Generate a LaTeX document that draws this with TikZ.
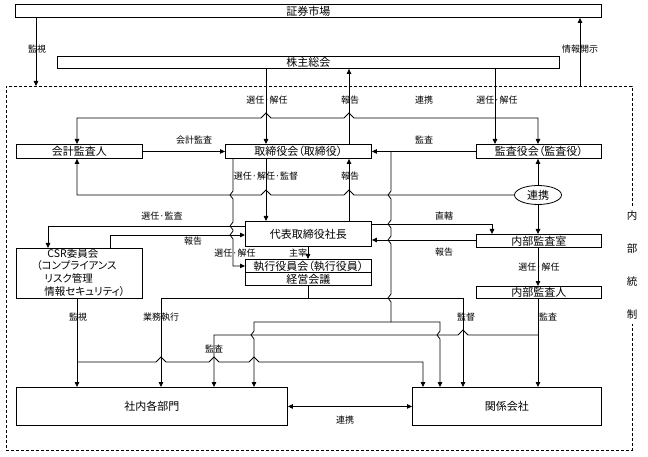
\documentclass[tikz,border=0pt]{standalone}
\usepackage{fontspec}
\setmainfont{Noto Sans CJK JP}[RawFeature={+palt}]
\usetikzlibrary{arrows.meta,shapes.geometric}
\newcommand\bfnt{\fontsize{11}{12}\selectfont}
\newcommand\lfnt{\fontsize{9}{10}\selectfont}
\tikzset{
 box/.style={draw, line width=0.9pt, inner sep=0pt, anchor=north west, font=\bfnt},
 ln/.style={line width=0.8pt},
 arr/.style={ln, -{Triangle[length=5pt,width=4.5pt]}},
 rarr/.style={ln, {Triangle[length=5pt,width=4.5pt]}-},
 darr/.style={ln, {Triangle[length=5pt,width=4.5pt]}-{Triangle[length=5pt,width=4.5pt]}},
 lbl/.style={font=\lfnt, inner sep=0pt},
 hj/.style args={#1/#2}{insert path={-- (#1-5,#2) -- (#1,#2-5) -- (#1+5,#2)}},
 vj/.style args={#1/#2}{insert path={-- (#1,#2-4) -- (#1-3,#2) -- (#1,#2+4)}},
}
\begin{document}
\begin{tikzpicture}[x=1pt,y=-1pt]
\useasboundingbox (0,0) rectangle (648,457);
% internal control frame
\node[draw, dashed, dash pattern=on 3pt off 2pt, line width=0.6pt, anchor=north west, inner sep=0pt,
      minimum width=626pt, minimum height=364pt] (ic) at (6,86) {};
\node[fill=white, inner xsep=1pt, inner ysep=4pt, align=center, font=\fontsize{10.5}{33}\selectfont] (naibutosei) at (632,265.5) {内\\部\\統\\制};
% boxes
\node[box, minimum width=586pt, minimum height=13pt] (sec) at (15,4) {証券市場};
\node[box, minimum width=502pt, minimum height=12pt] (kabu) at (57,56) {株主総会};
\node[box, minimum width=126pt, minimum height=14pt] (kaikei) at (16,144) {会計監査人};
\node[box, minimum width=146pt, minimum height=14pt] (tori) at (225,144) {取締役会（取締役）};
\node[box, minimum width=125pt, minimum height=14pt] (kansa) at (476,144) {監査役会（監査役）};
\node[draw, ellipse, line width=0.8pt, minimum width=47pt, minimum height=19pt, inner sep=0pt, font=\bfnt] (ren) at (538,195) {連携};
\node[box, minimum width=126pt, minimum height=25pt] (daihyo) at (245,221) {代表取締役社長};
\node[box, minimum width=125pt, minimum height=13pt] (naibushitsu) at (476,234) {内部監査室};
\node[box, minimum width=126pt, minimum height=50pt, inner xsep=10pt,
      font=\fontsize{10.5}{12.3}\selectfont] (csr) at (16,248)
  {\begin{tabular}{@{}l@{}}\makebox[106pt][l]{\hspace*{21pt}CSR委員会}\\\hspace*{10pt}（コンプライアンス\\\hspace*{18pt}リスク管理\\\hspace*{18pt}情報セキュリティ）\end{tabular}};
\node[box, minimum width=126pt, minimum height=13pt] (shikko) at (245,259) {執行役員会（執行役員）};
\node[box, minimum width=126pt, minimum height=13pt] (keiei) at (245,272) {経営会議};
\node[box, minimum width=125pt, minimum height=12pt] (naibujin) at (476,286) {内部監査人};
\node[box, minimum width=271pt, minimum height=38pt] (shanai) at (16,387) {社内各部門};
\node[box, minimum width=189pt, minimum height=38pt] (kankei) at (412,387) {関係会社};
% connectors
\draw[arr] (sec.south-|36,0) -- (ic.north-|36,0);
\draw[arr] (ic.north-|580,0) -- (sec.south-|580,0);
\draw[arr] (kabu.south-|266,0) -- (tori.north-|266,0);
\draw[arr] (kabu.south-|495,0) -- (kansa.north-|495,0);
\draw[arr] (tori.north-|349,0) -- (kabu.south-|349,0);
\draw[darr] (kaikei.north-|77,0) -- (77,118) [hj=266/118] [hj=349/118] -- (538,118) -- (kansa.north-|538,0);
\draw[arr] (kaikei.east) -- (tori.west);
\draw[arr] (kansa.west) -- (tori.east);
\draw[ln] (kansa.west-|391,0) [vj=391/195] [vj=391/224] [vj=391/240] [vj=391/298] -- (391,322);
\draw[arr] (391,322) -- (254,322) [vj=254/335] -- (shanai.north-|254,0);
\draw[arr] (391,322) -- (440,322) [vj=440/335] -- (kankei.north-|440,0);
\draw[arr] (tori.south-|233,0) [vj=233/195] [vj=233/226] [vj=233/235] -- (shikko.west-|233,0) -- (shikko.west);
\draw[arr] (tori.south-|266,0) -- (daihyo.north-|266,0);
\draw[arr] (daihyo.north-|349,0) -- (tori.south-|349,0);
\draw[rarr] (kaikei.south-|77,0) -- (77,195) [hj=266/195] [hj=349/195] -- (ren.west);
\draw[arr] (ren.north) -- (kansa.south-|ren.north);
\draw[arr] (ren.south) -- (naibushitsu.north-|ren.south);
\draw[arr] (daihyo.east|-0,224) -- (492,224) -- (naibushitsu.north-|492,0);
\draw[arr] (naibushitsu.west|-0,240) -- (daihyo.east|-0,240);
\draw[arr] (daihyo.west|-0,226) -- (48,226) -- (csr.north-|48,0);
\draw[arr] (csr.north-|110,0) -- (110,235) -- (daihyo.west|-0,235);
\draw[arr] (daihyo.south-|308,0) -- (shikko.north-|308,0);
\draw[arr] (naibushitsu.south-|538,0) -- (naibujin.north-|538,0);
\draw[ln] (keiei.south-|308,0) -- (308,298);
\draw[arr] (308,298) -- (161,298) -- (shanai.north-|161,0);
\draw[arr] (308,298) -- (463,298) -- (kankei.north-|463,0);
\draw[arr] (naibujin.south-|538,0) -- (kankei.north-|538,0);
\draw[rarr] (shanai.north-|214,0) -- (214,335) [hj=463/335] -- (538,335);
\draw[arr] (csr.south-|77,0) -- (shanai.north-|77,0);
\draw[arr] (77,362) [hj=161/362] [hj=214/362] [hj=254/362] -- (423,362) -- (kankei.north-|423,0);
\draw[darr] (shanai.east) -- (kankei.west);
% labels
\node[lbl] (l1) at (37,49) {監視};
\node[lbl] (l2) at (580,49) {情報開示};
\node[lbl] (l3) at (267,100) {選任·解任};
\node[lbl] (l4) at (350,100) {報告};
\node[lbl] (l5) at (424,100) {連携};
\node[lbl] (l6) at (497,100) {選任·解任};
\node[lbl] (l7) at (194,140) {会計監査};
\node[lbl] (l8) at (424,140) {監査};
\node[lbl] (l9) at (266,176) {選任·解任·監督};
\node[lbl] (l10) at (350,176) {報告};
\node[lbl] (l11) at (162,216) {選任·監査};
\node[lbl] (l12) at (193,241) {報告};
\node[lbl] (l13) at (444,216) {直轄};
\node[lbl] (l14) at (444,252) {報告};
\node[lbl] (l15) at (235,253) {選任·解任};
\node[lbl] (l16) at (298,253) {主宰};
\node[lbl] (l17) at (539,267) {選任·解任};
\node[lbl] (l18) at (78,317) {監視};
\node[lbl] (l19) at (161,317) {業務執行};
\node[lbl] (l20) at (466,317) {監督};
\node[lbl] (l21) at (548,317) {監査};
\node[lbl] (l22) at (214,349) {監査};
\node[lbl] (l23) at (345,420) {連携};
\end{tikzpicture}
\end{document}
